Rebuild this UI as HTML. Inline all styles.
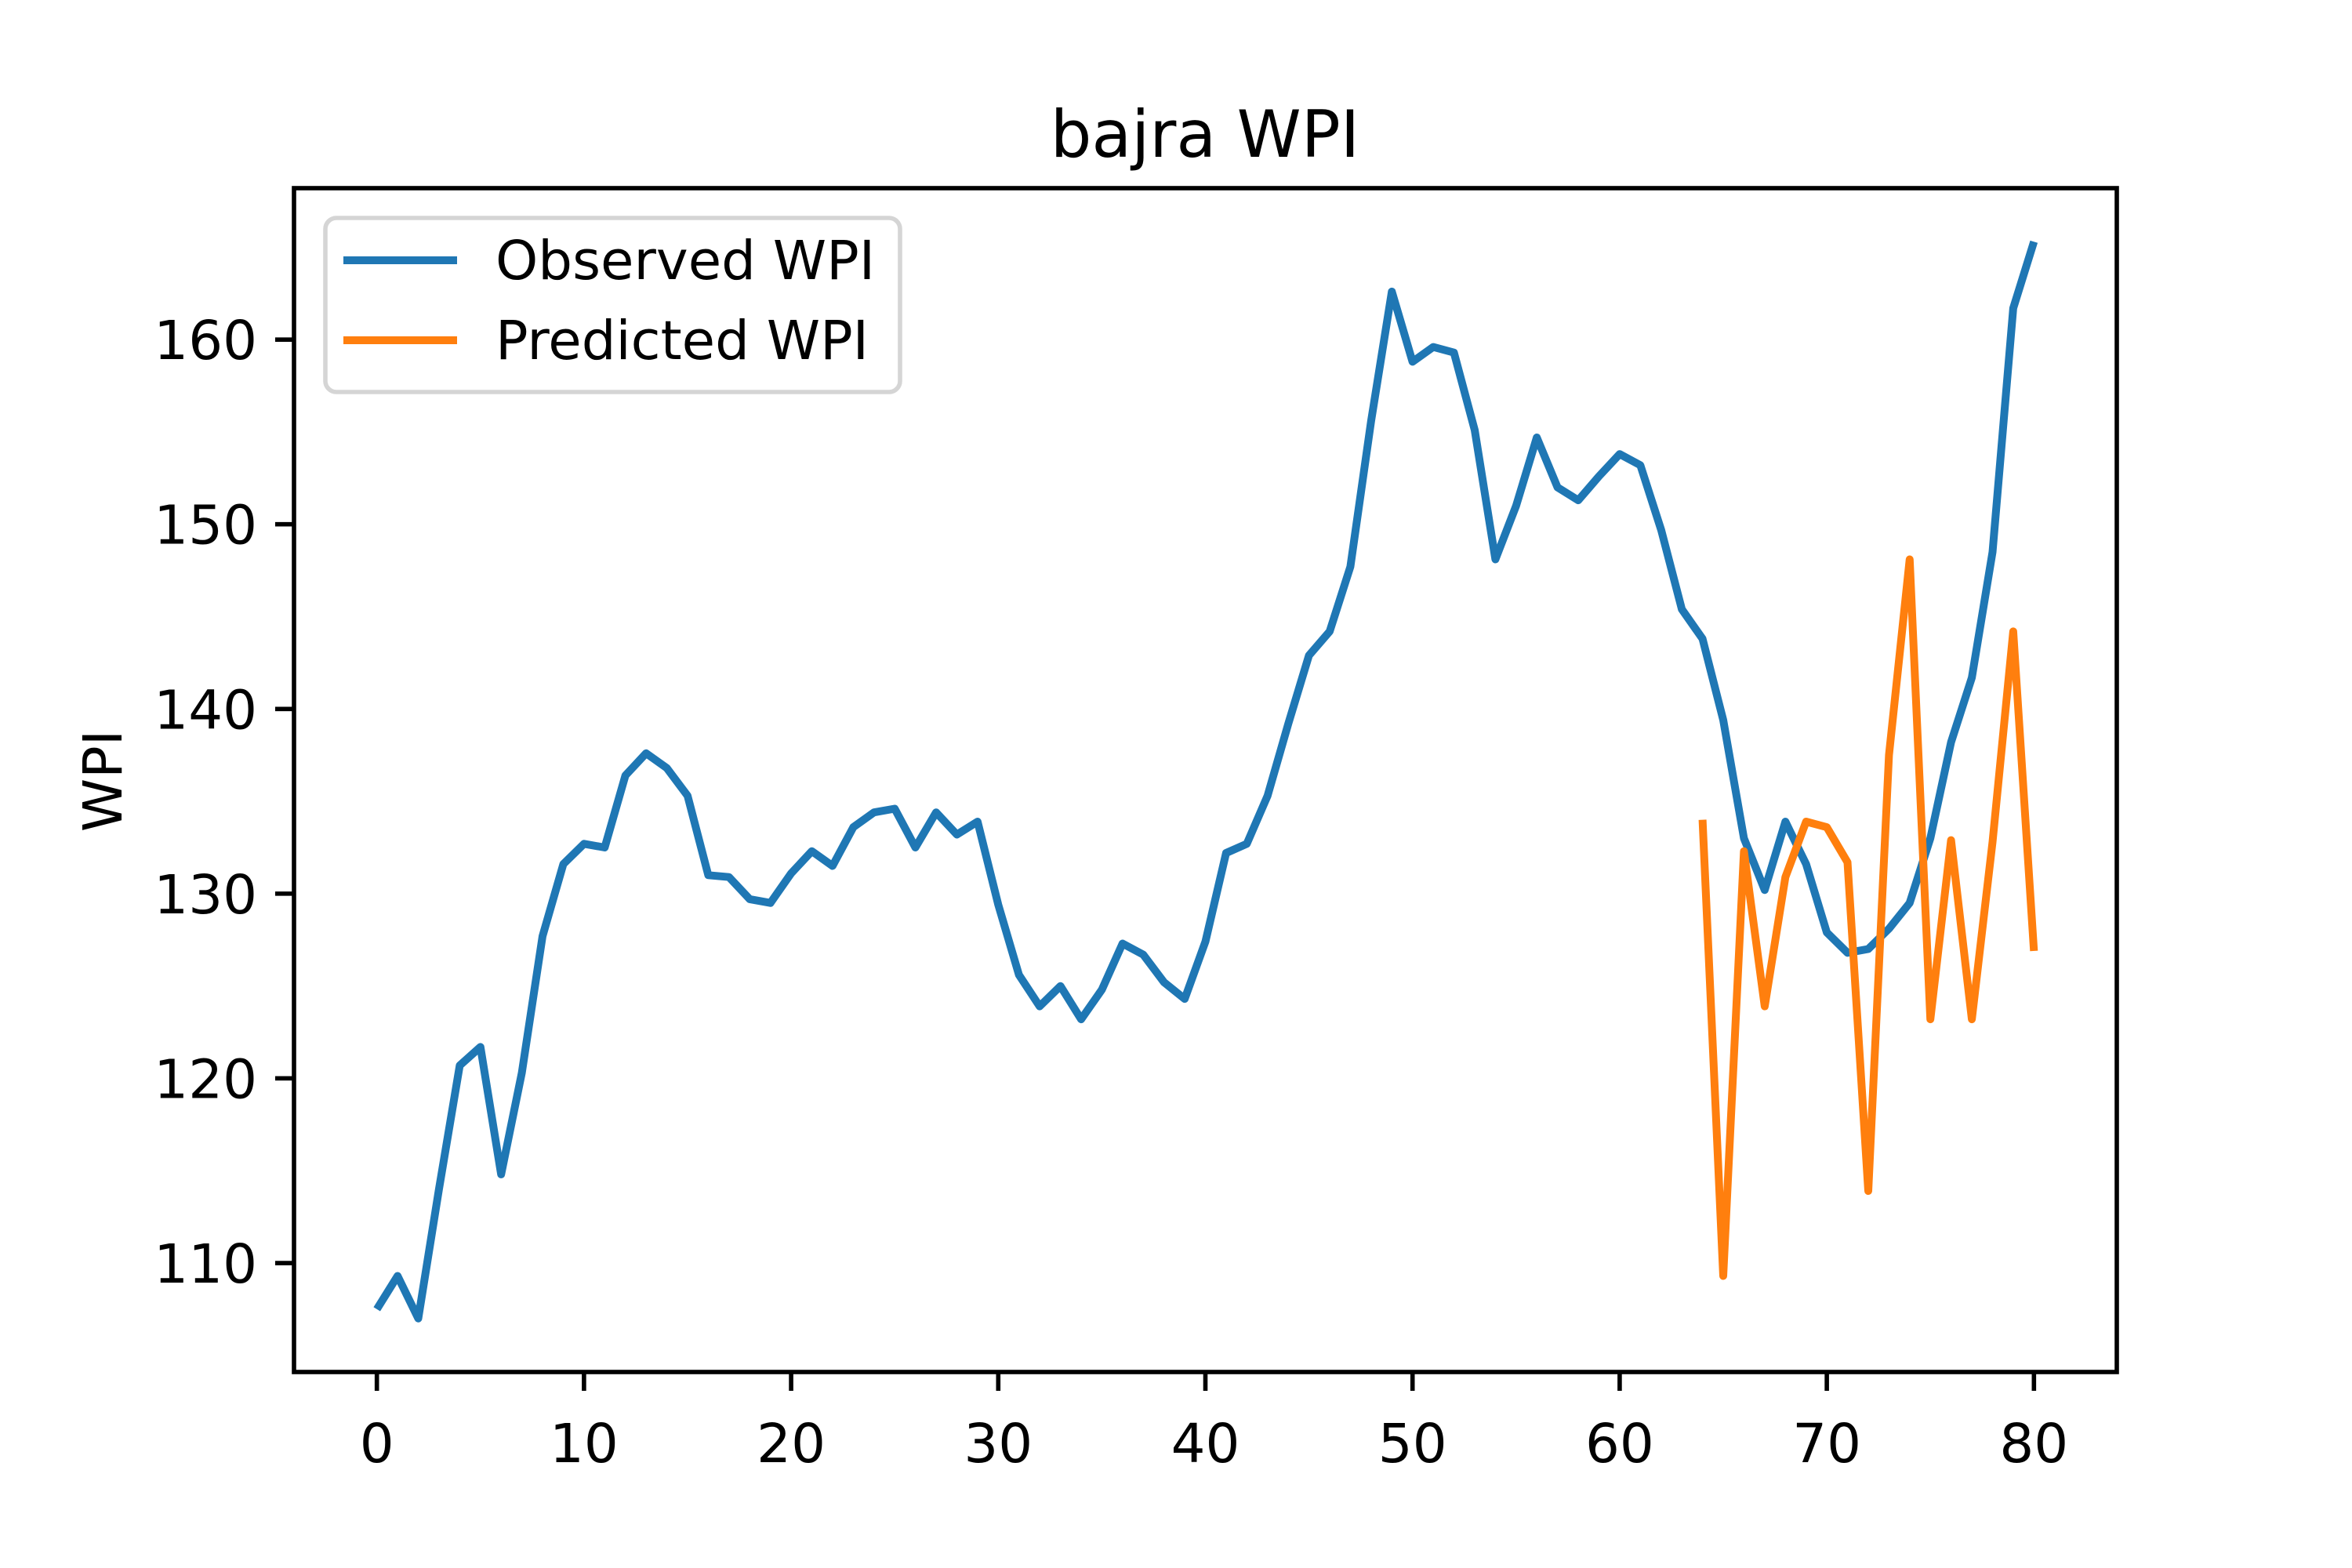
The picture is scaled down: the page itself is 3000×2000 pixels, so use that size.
<!DOCTYPE html>
<html><head><meta charset="utf-8"><style>
html,body{margin:0;padding:0;background:#fff;}
svg{display:block;font-family:"DejaVu Sans","Liberation Sans",sans-serif;}
</style></head><body>
<svg id="chart" width="3000" height="2000" viewBox="0 0 3000 2000" xmlns="http://www.w3.org/2000/svg">
<rect width="3000" height="2000" fill="#fff"/>
<text x="1537" y="200" font-size="83" text-anchor="middle" fill="#000">bajra WPI</text>
<text transform="translate(155,996) rotate(-90)" font-size="69" text-anchor="middle" fill="#000">WPI</text>
</svg>
<script>
const observedX = [];
for (let i = 0; i <= 80; i++) observedX.push(i);
const observedY = [107.5,109.3,107,114,120.7,121.7,114.8,120.3,127.7,131.6,132.7,132.5,136.4,137.6,136.8,135.3,131,130.9,129.7,129.5,131.1,132.3,131.5,133.6,134.4,134.6,132.5,134.4,133.2,133.9,129.4,125.6,123.9,125,123.2,124.8,127.3,126.7,125.2,124.3,127.4,132.2,132.7,135.3,139.2,142.9,144.2,147.7,155.6,162.6,158.8,159.6,159.3,155.1,148.1,151,154.7,152,151.3,152.6,153.8,153.2,149.7,145.4,143.8,139.4,133,130.2,133.9,131.6,127.9,126.8,127,128.1,129.5,133,138.2,141.7,148.5,161.7,165.3];
const predictedX = [64,65,66,67,68,69,70,71,72,73,74,75,76,77,78,79,80];
const predictedY = [134,109.3,132.3,123.9,130.9,133.9,133.6,131.7,113.9,137.5,148.1,123.2,132.9,123.2,132.8,144.2,126.9];
const xTicks = [0,10,20,30,40,50,60,70,80];
const yTicks = [110,120,130,140,150,160];
const legendLabels = ["Observed WPI","Predicted WPI"];

const L=375,R=2700,T=240,B=1750;
const xMin=-4,xMax=84,yMin=104.1,yMax=168.2;
const sx=v=>L+(v-xMin)/(xMax-xMin)*(R-L);
const sy=v=>B-(v-yMin)/(yMax-yMin)*(B-T);
const NS="http://www.w3.org/2000/svg";
const svg=document.getElementById('chart');
function mk(tag,attrs,parent){const e=document.createElementNS(NS,tag);for(const k in attrs)e.setAttribute(k,attrs[k]);(parent||svg).appendChild(e);return e;}

function series(xs,ys,color,name){
  const d=xs.map((x,i)=>(i?'L':'M')+sx(x).toFixed(1)+' '+sy(ys[i]).toFixed(1)).join(' ');
  const p=mk('path',{d:d,fill:'none',stroke:color,'stroke-width':10,'stroke-linejoin':'round','stroke-linecap':'butt'});
  
  
}
series(observedX,observedY,'#1f77b4','observed-wpi-line');
series(predictedX,predictedY,'#ff7f0e','predicted-wpi-line');

const frame=mk('rect',{x:L,y:T,width:R-L,height:B-T,fill:'none',stroke:'#000','stroke-width':5.6});



xTicks.forEach(v=>{
  const x=sx(v);
  const t=mk('line',{x1:x,x2:x,y1:B,y2:B+24,stroke:'#000','stroke-width':5.6});
  
  
  const lb=mk('text',{x:x,y:B+115,'font-size':69,'text-anchor':'middle',fill:'#000'});
  lb.textContent=v;
  
  
});
yTicks.forEach(v=>{
  const y=sy(v);
  const t=mk('line',{x1:L-24,x2:L,y1:y,y2:y,stroke:'#000','stroke-width':5.6});
  
  
  const lb=mk('text',{x:L-47,y:y+25,'font-size':69,'text-anchor':'end',fill:'#000'});
  lb.textContent=v;
  
  
});

const lg=mk('g',{});


mk('rect',{x:415,y:278,width:733,height:222,rx:14,fill:'#fff','fill-opacity':0.8,stroke:'#d5d5d5','stroke-width':5.6},lg);
const colors=['#1f77b4','#ff7f0e'];
legendLabels.forEach((s,i)=>{
  const y=332+i*102;
  const ln=mk('line',{x1:438,x2:583,y1:y,y2:y,stroke:colors[i],'stroke-width':10},lg);
  
  
  const tx=mk('text',{x:632,y:y+24,'font-size':69,fill:'#000'},lg);
  tx.textContent=s;
  
  
});
</script>
</body></html>
